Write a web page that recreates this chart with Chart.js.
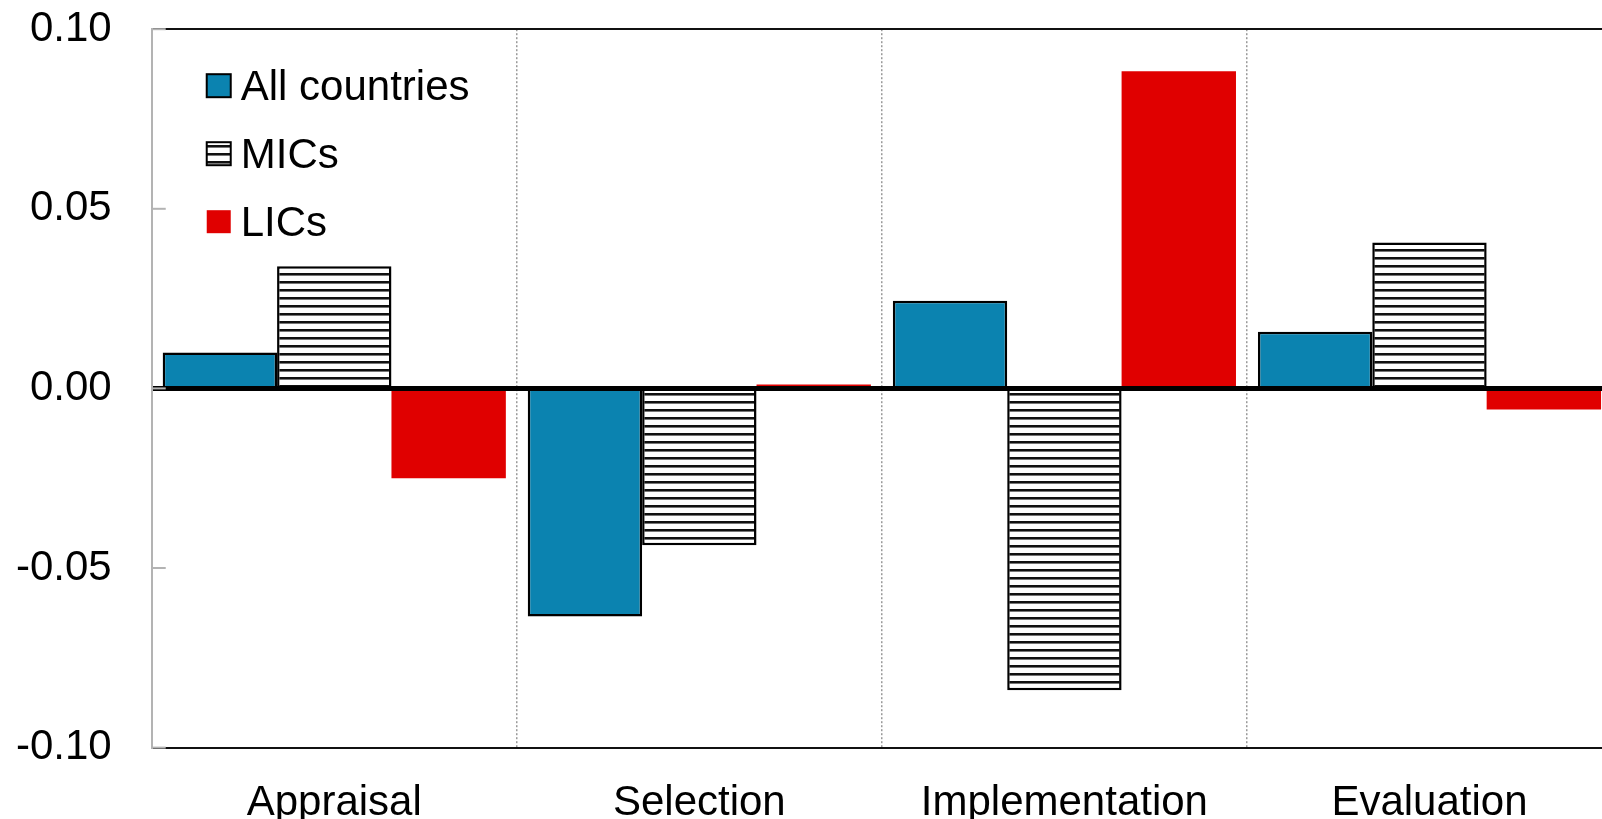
<!DOCTYPE html>
<html>
<head>
<meta charset="utf-8">
<script src="https://cdn.jsdelivr.net/npm/chart.js@4.4.0/dist/chart.umd.min.js"></script>
<style>
  html, body { margin: 0; padding: 0; background: #fff; overflow: hidden; }
  #wrap { position: absolute; left: -24px; top: -36px; width: 1664px; height: 900px; }
</style>
</head>
<body>
<div id="wrap"><canvas id="bar-chart"></canvas></div>
<script>
const categories = ["Appraisal", "Selection", "Implementation", "Evaluation"];
const seriesNames = ["All countries", "MICs", "LICs"];
const allCountries = [0.010, -0.0635, 0.0244, 0.0158];
const mics = [0.034, -0.0437, -0.084, 0.0406];
const lics = [-0.025, 0.0011, 0.0883, -0.0059];
const yTicks = [-0.10, -0.05, 0.00, 0.05, 0.10];

const fontFamily = "'Liberation Sans', Arial, sans-serif";

// horizontal hatch for the MICs bars
let canvasEl = document.getElementById("bar-chart");
function makeHatch() {
  let c = document.createElement("canvas");
  c.width = 8; c.height = 8;
  let g = c.getContext("2d");
  g.fillStyle = "#fff"; g.fillRect(0, 0, 8, 8);
  g.fillStyle = "#111"; g.fillRect(0, 5, 8, 2);
  g.fillStyle = "#777"; g.fillRect(0, 7, 8, 1);
  return canvasEl.getContext("2d").createPattern(c, "repeat");
}
let hatchFill = makeHatch();

// legend inside the plot + small inward tick marks on the y axis
const insideLegend = {
  id: "insideLegend",
  afterDraw(chart) {
    let {ctx, chartArea} = chart;
    let yScale = chart.scales.y;
    ctx.save();
    ctx.strokeStyle = "#b3b3b3";
    ctx.lineWidth = 2;
    yTicks.forEach(v => {
      let py = yScale.getPixelForValue(v);
      ctx.beginPath();
      ctx.moveTo(chartArea.left, py);
      ctx.lineTo(chartArea.left + 14, py);
      ctx.stroke();
    });

    ctx.font = "42px " + fontFamily;
    ctx.textBaseline = "middle";
    chart.data.datasets.forEach((ds, i) => {
      let x = chartArea.left + 55;
      let y = chartArea.top + 57 + i * 68;
      ctx.fillStyle = ds.backgroundColor;
      ctx.fillRect(x, y - 12, 24, 23);
      if (ds.borderWidth) {
        ctx.lineWidth = 2;
        ctx.strokeStyle = "#000";
        ctx.strokeRect(x, y - 12, 24, 23);
      }
      ctx.fillStyle = "#000";
      ctx.fillText(ds.label, x + 34, y + 2);
    });
    ctx.restore();
  }
};

new Chart("bar-chart", {
  type: "bar",
  data: {
    labels: categories,
    datasets: [{
      label: seriesNames[0],
      data: allCountries,
      backgroundColor: "#0b83b0",
      borderColor: "#000",
      borderWidth: 2.5
    }, {
      label: seriesNames[1],
      data: mics,
      backgroundColor: hatchFill,
      borderColor: "#000",
      borderWidth: 2.5
    }, {
      label: seriesNames[2],
      data: lics,
      backgroundColor: "#e00000",
      borderWidth: 0
    }]
  },
  options: {
    responsive: true,
    maintainAspectRatio: false,
    animation: false,
    layout: { padding: { left: 0, right: 28, top: 3, bottom: 4 } },
    datasets: { bar: { categoryPercentage: 0.94, barPercentage: 1.0 } },
    plugins: {
      legend: { display: false },
      tooltip: { enabled: false }
    },
    scales: {
      x: {
        grid: { color: "#9a9a9a", lineWidth: 1.5, drawTicks: false },
        border: { display: false, dash: [2, 2] },
        ticks: { color: "#000", font: { size: 42, family: fontFamily }, padding: 31 }
      },
      y: {
        min: -0.1,
        max: 0.1,
        z: 1,
        afterBuildTicks: (scale) => { scale.ticks = yTicks.map(v => ({ value: v })); },
        ticks: {
          color: "#000",
          font: { size: 42, family: fontFamily },
          padding: 40,
          callback: (v) => Number(v).toFixed(2)
        },
        grid: {
          drawTicks: false,
          color: (c) => {
            let v = c.tick ? c.tick.value : 1;
            if (Math.abs(v) < 1e-9) return "#000";
            if (Math.abs(v) > 0.099) return "#111";
            return "rgba(0,0,0,0)";
          },
          lineWidth: (c) => {
            let v = c.tick ? c.tick.value : 1;
            return Math.abs(v) < 1e-9 ? 5 : 2;
          }
        },
        border: { color: "#b3b3b3", width: 2 }
      }
    }
  },
  plugins: [insideLegend]
});
</script>
</body>
</html>
